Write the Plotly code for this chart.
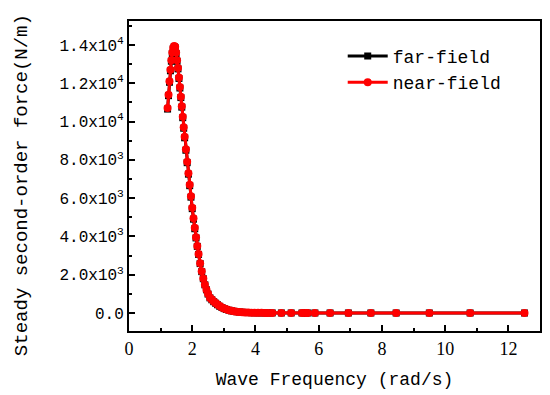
import plotly.graph_objects as go

freq = [1.22, 1.25, 1.28, 1.31, 1.34, 1.37, 1.40, 1.43, 1.46, 1.49, 1.52, 1.55, 1.58, 1.61,
        1.64, 1.67, 1.70, 1.73, 1.76, 1.80, 1.84, 1.88, 1.92, 1.96, 2.00, 2.04, 2.08, 2.12,
        2.16, 2.20, 2.25, 2.30, 2.35, 2.40, 2.45, 2.50, 2.56, 2.62, 2.68, 2.74, 2.80, 2.87,
        2.94, 3.01, 3.08, 3.16, 3.24, 3.32, 3.40, 3.49, 3.58, 3.67, 3.77, 3.87, 3.97, 4.08,
        4.19, 4.30, 4.40, 4.53, 4.82, 5.13, 5.47, 5.58, 5.65, 5.88, 6.36, 6.94, 7.65, 8.45,
        9.50, 10.79, 12.51]

far_field = [10650, 11350, 12050, 12650, 13150, 13550, 13800, 13900, 13850, 13550, 13150,
             12750, 12250, 11750, 11250, 10750, 10200, 9650, 9150, 8500, 7850, 7250, 6650,
             6050, 5450, 4900, 4400, 3920, 3480, 3060, 2580, 2160, 1790, 1470, 1210, 990,
             790, 690, 590, 510, 430, 350, 285, 230, 185, 145, 112, 88, 68, 51, 39, 29, 21,
             15, 11, 8, 6, 5, 4, 3, 2, 1.5, 1, 1, 1, 1, 0.5, 0.5, 0.5, 0.3, 0.2, 0.1, 0.1]

near_field = [10700, 11400, 12100, 12700, 13200, 13600, 13850, 13950, 13900, 13600, 13200,
              12800, 12300, 11800, 11300, 10800, 10250, 9700, 9200, 8550, 7900, 7300, 6700,
              6100, 5500, 4950, 4450, 3950, 3500, 3080, 2600, 2180, 1800, 1480, 1220, 1000,
              800, 700, 600, 520, 440, 360, 290, 235, 190, 150, 115, 90, 70, 52, 40, 30, 22,
              16, 12, 9, 7, 5, 4, 3, 2, 1.5, 1, 1, 1, 1, 0.5, 0.5, 0.5, 0.3, 0.2, 0.1, 0.1]

y_tick_vals = [0, 2000, 4000, 6000, 8000, 10000, 12000, 14000]
y_tick_text = ["0.0", "2.0x10<sup>3</sup>", "4.0x10<sup>3</sup>", "6.0x10<sup>3</sup>",
               "8.0x10<sup>3</sup>", "1.0x10<sup>4</sup>", "1.2x10<sup>4</sup>",
               "1.4x10<sup>4</sup>"]
x_tick_vals = [0, 2, 4, 6, 8, 10, 12]

FONT = "Liberation Mono"

fig = go.Figure()
fig.add_trace(go.Scatter(x=freq, y=far_field, mode="lines+markers", name="far-field",
                         line=dict(color="black", width=3),
                         marker=dict(symbol="square", size=7, color="black")))
fig.add_trace(go.Scatter(x=freq, y=near_field, mode="lines+markers", name="near-field",
                         line=dict(color="red", width=3),
                         marker=dict(symbol="circle", size=8, color="red")))

axis_common = dict(showline=True, linecolor="black", linewidth=2, mirror=True,
                   showgrid=False, zeroline=False, ticks="inside", ticklen=6,
                   tickwidth=2, tickcolor="black", automargin=False,
                   minor=dict(ticks="inside", ticklen=3, tickwidth=1.5, tickcolor="black"))

# page body has an 8px default margin, so the figure is sized to fit the window
fig.update_layout(
    width=542, height=387,
    margin=dict(l=121, r=10, t=13, b=64),
    paper_bgcolor="white", plot_bgcolor="white",
    font=dict(family=FONT, color="black"),
    showlegend=True,
    legend=dict(x=0.52, y=0.946, xanchor="left", yanchor="top",
                bgcolor="rgba(0,0,0,0)", font=dict(family=FONT, size=18),
                tracegroupgap=0, itemwidth=40),
    xaxis=dict(range=[0, 13.0], tickvals=x_tick_vals,
               title=dict(text="Wave Frequency (rad/s)", font=dict(family=FONT, size=18)),
               tickfont=dict(family="Liberation Serif", size=18),
               **axis_common),
    yaxis=dict(range=[-940, 15250], tickvals=y_tick_vals, ticktext=y_tick_text,
               tickfont=dict(family=FONT, size=16),
               **axis_common),
    annotations=[dict(text="Steady second-order force(N/m)", xref="paper", yref="paper",
                      x=-0.26, y=0.471, xanchor="center", yanchor="middle",
                      textangle=-90, showarrow=False,
                      font=dict(family=FONT, size=19, color="black"))],
)
fig.update_xaxes(minor=dict(tickvals=[1, 3, 5, 7, 9, 11, 13]))
fig.update_yaxes(minor=dict(tickvals=[1000, 3000, 5000, 7000, 9000, 11000, 13000, 15000]))

fig.write_html("out.html")
